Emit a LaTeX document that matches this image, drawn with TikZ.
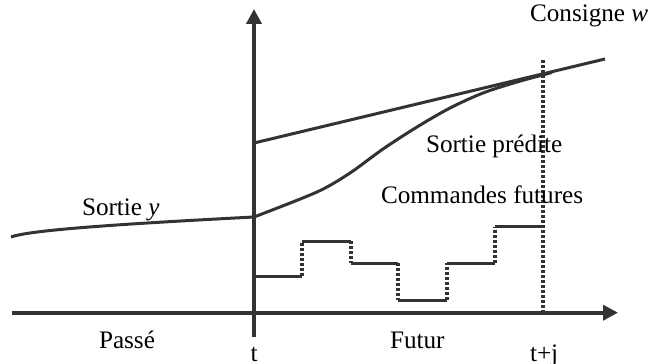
\documentclass[tikz,border=0pt]{standalone}
\usepackage{fontspec}
\setmainfont{Liberation Serif}
\usetikzlibrary{arrows.meta}
\tikzset{
    axe/.style={line width=0.12cm, draw=black!80, -{Triangle[length=0.45cm,width=0.45cm]}},
    courbe/.style={line width=0.09cm, draw=black!80},
    pointille/.style={line width=0.1cm, draw=black!80, dash pattern=on 0.09cm off 0.06cm},
    etiquette/.style={anchor=base west, inner sep=0, outer sep=0, font=\fontsize{21.5}{25}\selectfont}
}
\begin{document}
\begin{tikzpicture}[x=0.03cm, y=0.03cm]
    \useasboundingbox (0,0) rectangle (653,363);
    % axes
    \coordinate (tbas) at (254,26);
    \coordinate (thaut) at (254,354);
    \coordinate (gauche) at (12,50.3);
    \coordinate (droite) at (618,50.3);
    \draw[axe] (gauche) -- (droite);
    \draw[axe] (tbas) -- (thaut);
    % consigne et sorties
    \coordinate (w0) at (254,220);
    \coordinate (w1) at (605,304);
    \draw[courbe] (w0) -- (w1);
    \coordinate (y0) at (11,126);
    \coordinate (yt) at (254,146);
    \draw[courbe] (y0) .. controls (30,133) and (120,139) .. (yt);
    \draw[courbe] plot[smooth] coordinates {(254,146) (317,171) (350,190) (383,214)
        (417,236) (450,255) (483,270) (517,281) (552,290.5)};
    % horizon
    \coordinate (hbas) at (543,50.3);
    \coordinate (hhaut) at (543,304);
    \draw[pointille] (hbas) -- (hhaut);
    % commandes futures
    \draw[courbe] (254,87) -- (302,87);
    \draw[pointille] (302,87) -- (302,122);
    \draw[courbe] (302,122) -- (351,122);
    \draw[pointille] (351,122) -- (351,100);
    \draw[courbe] (351,100) -- (398,100);
    \draw[pointille] (398,100) -- (398,63);
    \draw[courbe] (398,63) -- (447,63);
    \draw[pointille] (447,63) -- (447,100);
    \draw[courbe] (447,100) -- (495,100);
    \draw[pointille] (495,100) -- (495,136);
    \draw[courbe] (495,136) -- (543,136);
    % textes
    \node[etiquette] (consigne) at (530,341) {Consigne \textit{w}};
    \node[etiquette] (predite) at (426,210) {Sortie prédite};
    \node[etiquette] (commandes) at (381,159) {Commandes futures};
    \node[etiquette] (sortie) at (82,147) {Sortie \textit{y}};
    \node[etiquette] (passe) at (99,15) {Passé};
    \node[etiquette, anchor=base] (t) at (254,2) {t};
    \node[etiquette] (futur) at (390,15) {Futur};
    \node[etiquette] (tj) at (530,2) {t+j};
\end{tikzpicture}
\end{document}
